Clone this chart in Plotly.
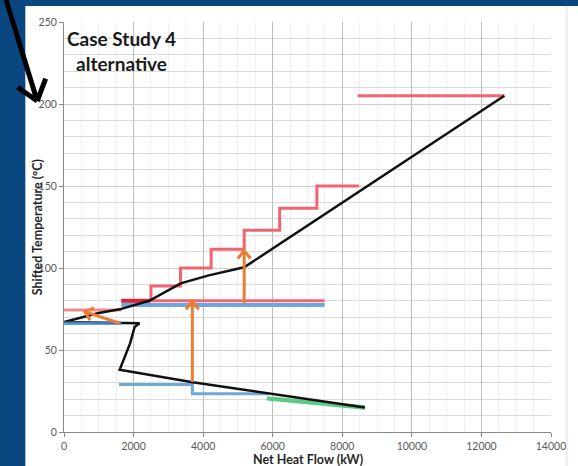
import numpy as np
import plotly.graph_objects as go

# ---- data: shifted temperature (°C) vs net heat flow (kW) ----
gcc_heat = [12660, 9580, 5180, 4160, 3355, 2450, 1600, 1000, 0,
            2170, 2030, 1900, 1600, 3700, 5900, 8650]
gcc_temp = [205, 162, 100.4, 95.5, 90.6, 80, 74.8, 72.6, 67,
            66.3, 64, 54, 38, 30.3, 23.5, 15]

hot_util_heat = [8440, 12660]
hot_util_temp = [205, 205]

hot_step_heat = [2500, 2500, 3350, 3350, 4230, 4230, 5180, 5180,
                 6200, 6200, 7270, 7270, 8480]
hot_step_temp = [80, 89, 89, 100, 100, 111.4, 111.4, 123, 123,
                 136.4, 136.4, 150, 150]

hot_line_heat = [1650, 7490]
hot_line_temp = [80, 80]
hot_overlap_heat = [1650, 2480]
hot_overlap_temp = [80, 80]
hot_left_heat = [0, 1650]
hot_left_temp = [74.4, 74.4]

cold_line_heat = [1650, 7490]
cold_line_temp = [77.4, 77.4]
cold_left_heat = [0, 1650]
cold_left_temp = [66.3, 66.3]
cold_step_heat = [1580, 3690, 3690, 5880]
cold_step_temp = [29, 29, 23.3, 23.3]

green_heat = [5830, 8650]
green_temp = [20.5, 15]

# heat transfer arrows: (from heat, from temp, to heat, to temp)
arrow_from_heat = [1600, 3690, 5180]
arrow_from_temp = [66.3, 30.5, 78.5]
arrow_to_heat = [600, 3690, 5180]
arrow_to_temp = [73.4, 79.5, 110.5]

X_MAX, Y_MAX = 14000, 250
W, H = 578, 466
M_L, M_R, M_T, M_B = 64, 23, 22, 34
PW, PH = W - M_L - M_R, H - M_T - M_B
SX, SY = PW / X_MAX, PH / Y_MAX  # pixels per data unit


def chevron(x0, y0, x1, y1, length=10, spread=np.radians(40)):
    ang = np.arctan2((y1 - y0) * SY, (x1 - x0) * SX)
    pts_x, pts_y = [], []
    for s in (1, -1):
        a = ang + np.pi + s * spread
        pts_x.append(x1 + length * np.cos(a) / SX)
        pts_y.append(y1 + length * np.sin(a) / SY)
    return [pts_x[0], x1, pts_x[1]], [pts_y[0], y1, pts_y[1]]


def seg(x, y, color, width, opacity=1.0):
    return go.Scatter(x=x, y=y, mode="lines", opacity=opacity,
                      line=dict(color=color, width=width),
                      hoverinfo="skip", showlegend=False)


RED = "#f2646f"
BLUE = "#6ea7dc"
fig = go.Figure()

fig.add_trace(seg(hot_util_heat, hot_util_temp, RED, 3))
fig.add_trace(seg(hot_step_heat, hot_step_temp, RED, 3))
fig.add_trace(seg(hot_left_heat, hot_left_temp, "#f3878f", 3))
fig.add_trace(seg(cold_line_heat, cold_line_temp, BLUE, 4))
fig.add_trace(seg(hot_line_heat, hot_line_temp, RED, 3))
fig.add_trace(seg(hot_overlap_heat, hot_overlap_temp, "#d7263c", 4))
fig.add_trace(seg(cold_step_heat, cold_step_temp, BLUE, 3))
fig.add_trace(seg(green_heat, green_temp, "#5cc985", 4.5))
fig.add_trace(seg(gcc_heat, gcc_temp, "#111111", 2.5))
fig.add_trace(seg(cold_left_heat, cold_left_temp, "#4f8fcf", 3.5, 0.85))

for fx, fy, tx, ty in zip(arrow_from_heat, arrow_from_temp,
                          arrow_to_heat, arrow_to_temp):
    cx, cy = chevron(fx, fy, tx, ty)
    fig.add_trace(seg([fx, tx, None] + cx, [fy, ty, None] + cy, "#ed7d31", 3))

FONT = "Lato, 'Open Sans', sans-serif"

fig.update_xaxes(range=[0, X_MAX], dtick=2000, tickformat="d", showgrid=True,
                 gridcolor="#bdbdbd", gridwidth=1,
                 minor=dict(dtick=500, showgrid=True, gridcolor="#f0f0f0"),
                 showline=True, linecolor="#8a8a8a", linewidth=1,
                 ticks="outside", ticklen=4, tickcolor="#8a8a8a",
                 tickfont=dict(family=FONT, size=10.5, color="#595959"),
                 zeroline=False, fixedrange=True)
fig.update_yaxes(range=[0, Y_MAX], dtick=50, tickformat="d", showgrid=True,
                 gridcolor="#cdcdcd", gridwidth=1,
                 minor=dict(dtick=10, showgrid=True, gridcolor="#dcdcdc"),
                 showline=True, linecolor="#8a8a8a", linewidth=1,
                 ticks="outside", ticklen=4, tickcolor="#8a8a8a",
                 tickfont=dict(family=FONT, size=10.5, color="#595959"),
                 zeroline=False, fixedrange=True)


def px_x(p):
    return (p - M_L) / PW


def px_y(p):
    return (H - M_B - p) / PH


NAVY = "#0a4680"
shapes = [
    dict(type="rect", xref="paper", yref="paper", x0=px_x(-5), x1=px_x(25),
         y0=px_y(H + 5), y1=px_y(-5), fillcolor=NAVY, line=dict(width=0)),
    dict(type="rect", xref="paper", yref="paper", x0=px_x(-5), x1=px_x(W + 5),
         y0=px_y(6), y1=px_y(-5), fillcolor=NAVY, line=dict(width=0)),
    dict(type="line", xref="paper", yref="paper", x0=px_x(571), x1=px_x(571),
         y0=px_y(6), y1=px_y(H + 5), line=dict(color="#d5dce6", width=1)),
]

# pointer arrow in the left margin
tail, tip = np.array([5.0, -2.0]), np.array([37.0, 101.0])
back = (tail - tip) / np.linalg.norm(tail - tip)
arm = 24
path = f"M {px_x(tail[0])},{px_y(tail[1])} L {px_x(tip[0])},{px_y(tip[1])}"
for s in (1, -1):
    a = np.radians(38) * s
    rot = np.array([[np.cos(a), -np.sin(a)], [np.sin(a), np.cos(a)]])
    end = tip + arm * rot @ back
    path += f" M {px_x(end[0])},{px_y(end[1])} L {px_x(tip[0])},{px_y(tip[1])}"
shapes.append(dict(type="path", xref="paper", yref="paper", path=path,
                   line=dict(color="#000000", width=5)))

annotations = [
    dict(text="<b>Case Study 4<br>alternative</b>", xref="paper", yref="paper",
         x=px_x(122), y=px_y(51), xanchor="center", yanchor="middle",
         showarrow=False, align="center",
         font=dict(family=FONT, size=19, color="#1a1a1a")),
    dict(text="<b>Net Heat Flow (kW)</b>", xref="paper", yref="paper",
         x=px_x(310), y=px_y(459), xanchor="center", yanchor="middle",
         showarrow=False, font=dict(family=FONT, size=12.5, color="#262626")),
    dict(text="<b>Shifted Temperature (°C)</b>", xref="paper", yref="paper",
         x=px_x(37), y=px_y(227), xanchor="center", yanchor="middle",
         textangle=-90, showarrow=False,
         font=dict(family=FONT, size=12.5, color="#262626")),
]

fig.update_layout(width=W, height=H, autosize=False,
                  margin=dict(l=M_L, r=M_R, t=M_T, b=M_B, pad=0),
                  paper_bgcolor="white", plot_bgcolor="white",
                  shapes=shapes, annotations=annotations, showlegend=False)

fig.write_html("out.html", config=dict(displayModeBar=False))
